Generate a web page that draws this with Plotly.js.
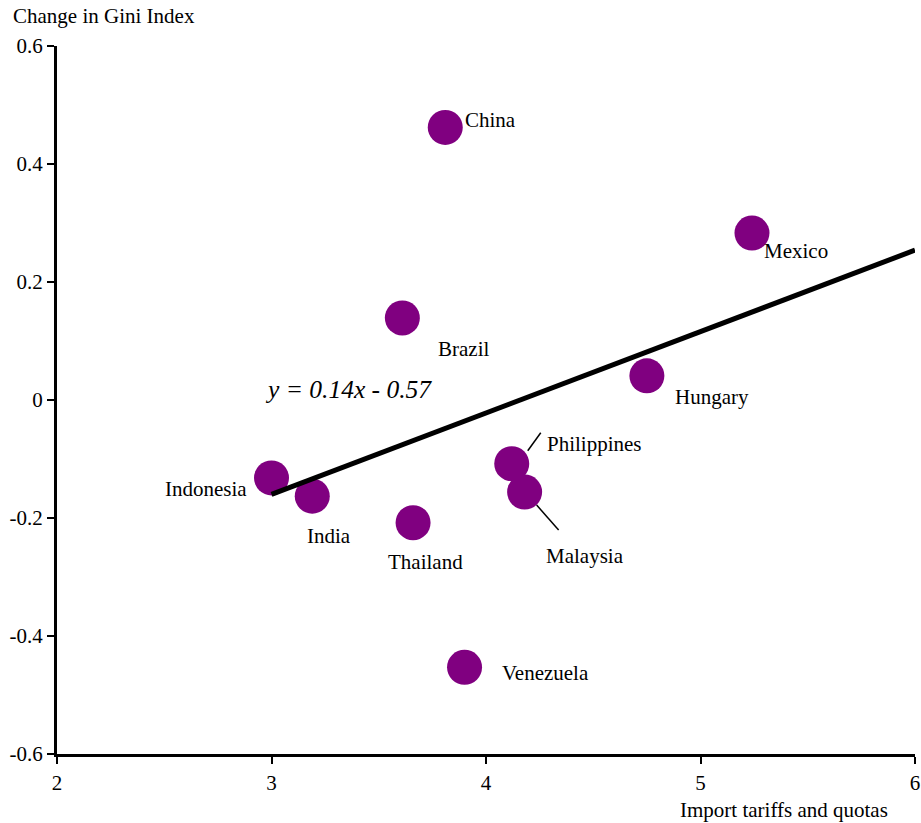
<!DOCTYPE html>
<html>
<head>
<meta charset="utf-8">
<script src="https://cdn.plot.ly/plotly-3.0.1.min.js"></script>
<style>html,body{margin:0;padding:0;background:#fff;}#chart{width:921px;height:823px;}</style>
</head>
<body>
<div id="chart"></div>
<script>
const countries = ["China","Mexico","Brazil","Hungary","Philippines","Malaysia","Indonesia","India","Thailand","Venezuela"];
const tariffs = [3.81, 5.24, 3.61, 4.75, 4.12, 4.18, 3.00, 3.19, 3.66, 3.90];
const giniChange = [0.462, 0.283, 0.139, 0.041, -0.108, -0.156, -0.132, -0.163, -0.208, -0.453];
const trendX = [3, 6];
const trendY = [-0.160, 0.254];
const equationText = "y = 0.14x - 0.57";
const xTicks = [2, 3, 4, 5, 6];
const yTicks = [-0.6, -0.4, -0.2, 0, 0.2, 0.4, 0.6];
const yTickText = ["-0.6", "-0.4", "-0.2", "0", "0.2", "0.4", "0.6"];

// label placement (pixel offsets from each point)
const labelPos = {
  China: {xa: "left", dx: 18, dy: 7},
  Mexico: {xa: "left", dx: 10, dy: -18},
  Brazil: {xa: "left", dx: 34, dy: -31},
  Hungary: {xa: "left", dx: 26, dy: -21},
  Philippines: {xa: "left", dx: 33, dy: 20},
  Malaysia: {xa: "left", dx: 19, dy: -64},
  Indonesia: {xa: "right", dx: -23, dy: -11},
  India: {xa: "center", dx: 17, dy: -40},
  Thailand: {xa: "center", dx: 12, dy: -39},
  Venezuela: {xa: "left", dx: 35, dy: -6}
};

const FONT = "Liberation Serif, Times New Roman, serif";
const FS = 21;

const annotations = countries.map((c, i) => ({
  x: tariffs[i], y: giniChange[i], xref: "x", yref: "y",
  text: c, showarrow: false,
  xanchor: labelPos[c].xa, yanchor: "middle",
  xshift: labelPos[c].dx, yshift: labelPos[c].dy,
  font: {family: FONT, size: FS, color: "#000"}
}));
annotations.push({
  x: 2.96, y: 0.017, xref: "x", yref: "y", xanchor: "left", yanchor: "middle",
  text: "<i>" + equationText + "</i>", showarrow: false,
  font: {family: FONT, size: 25.5, color: "#000"}
});
annotations.push({
  x: 0, y: 1, xref: "paper", yref: "paper", xanchor: "left", yanchor: "bottom",
  xshift: -46, yshift: 16,
  text: "Change in Gini Index", showarrow: false,
  font: {family: FONT, size: FS, color: "#000"}
});
annotations.push({
  x: 1, y: 0, xref: "paper", yref: "paper", xanchor: "right", yanchor: "top",
  xshift: -25, yshift: -42,
  text: "Import tariffs and quotas", showarrow: false,
  font: {family: FONT, size: FS, color: "#000"}
});

const iP = countries.indexOf("Philippines");
const iM = countries.indexOf("Malaysia");
const shapes = [
  {type: "line", xref: "x", yref: "y", xsizemode: "pixel", ysizemode: "pixel",
   xanchor: tariffs[iP], yanchor: giniChange[iP], x0: 16, y0: 13, x1: 29, y1: 31,
   line: {color: "#000", width: 1.5}},
  {type: "line", xref: "x", yref: "y", xsizemode: "pixel", ysizemode: "pixel",
   xanchor: tariffs[iM], yanchor: giniChange[iM], x0: 12, y0: -13, x1: 34, y1: -38,
   line: {color: "#000", width: 1.5}}
];

const traces = [
  {x: tariffs, y: giniChange, type: "scatter", mode: "markers",
   marker: {size: 35, color: "#800080", line: {width: 0}}, hoverinfo: "text", text: countries},
  {x: trendX, y: trendY, type: "scatter", mode: "lines",
   line: {color: "#000", width: 5}, hoverinfo: "skip"}
];

const layout = {
  width: 921, height: 823,
  margin: {l: 57, r: 6, t: 46, b: 69},
  paper_bgcolor: "#fff", plot_bgcolor: "#fff",
  showlegend: false,
  font: {family: FONT, size: FS, color: "#000"},
  xaxis: {range: [2, 6], tickvals: xTicks, ticktext: xTicks.map(String),
    showgrid: false, zeroline: false, showline: true, linecolor: "#000", linewidth: 3,
    ticks: "outside", ticklen: 7, tickwidth: 2, tickcolor: "#000",
    tickfont: {family: FONT, size: FS, color: "#000"}, ticklabelstandoff: 1},
  yaxis: {range: [-0.6, 0.6], tickvals: yTicks, ticktext: yTickText,
    showgrid: false, zeroline: false, showline: true, linecolor: "#000", linewidth: 3,
    ticks: "outside", ticklen: 7, tickwidth: 2, tickcolor: "#000",
    tickfont: {family: FONT, size: FS, color: "#000"}},
  annotations: annotations,
  shapes: shapes
};

Plotly.newPlot("chart", traces, layout, {displayModeBar: false, staticPlot: true});
</script>
</body>
</html>
